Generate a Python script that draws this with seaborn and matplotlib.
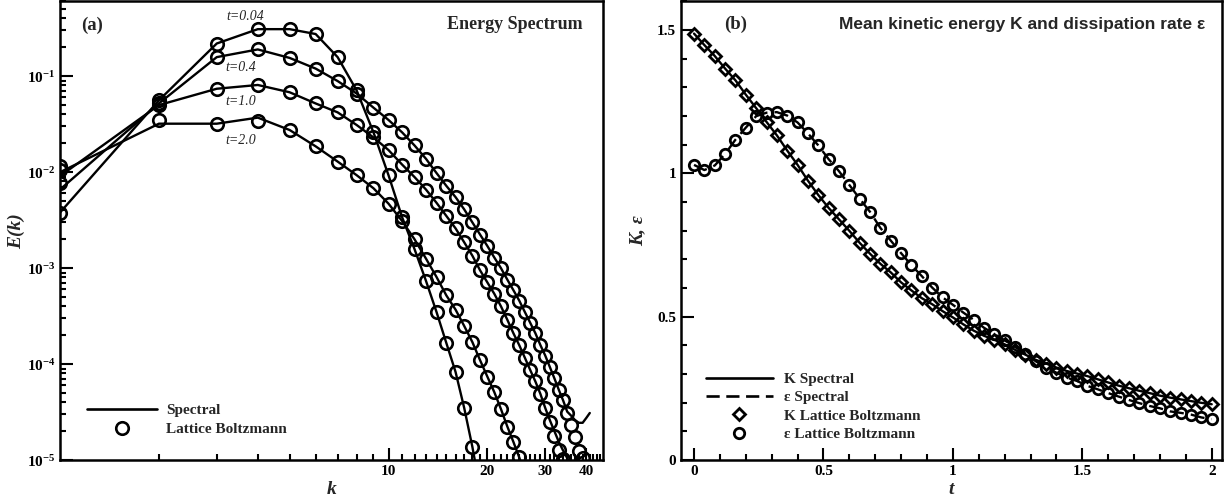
import math
import matplotlib
matplotlib.use("Agg")
import matplotlib.pyplot as plt
import seaborn as sns
import pandas as pd
from matplotlib.lines import Line2D
from matplotlib.ticker import FixedLocator, NullFormatter, MultipleLocator, FuncFormatter, LogLocator

sns.set_style("ticks")
plt.rcParams['font.family'] = ['Liberation Serif', 'DejaVu Serif']
plt.rcParams['font.weight'] = 'bold'
plt.rcParams['axes.labelweight'] = 'bold'
plt.rcParams['mathtext.fontset'] = 'custom'
plt.rcParams['mathtext.rm'] = 'Liberation Serif:bold'
plt.rcParams['mathtext.bf'] = 'Liberation Serif:bold'
plt.rcParams['mathtext.it'] = 'Liberation Serif:italic:bold'

# ---------------- panel (a): energy spectrum E(k) ----------------
k_modes = [1, 2, 3, 4, 5, 6, 7, 8, 9, 10, 11, 12, 13, 14, 15, 16, 17, 18, 19, 20,
           21, 22, 23, 24, 25, 26, 27, 28, 29, 30, 31, 32, 33, 34, 35, 36, 37, 38, 39, 40, 41]
time_labels = ['t=0.04', 't=0.4', 't=1.0', 't=2.0']

# Lattice Boltzmann points
lb_t004 = [3.8e-3, 5.6e-2, 0.219, 0.309, 0.309, 0.275, 0.158, 7.1e-2, 2.6e-2, 9.3e-3,
           3.4e-3, 1.58e-3, 7.4e-4, 3.5e-4, 1.66e-4, 8.3e-5, 3.5e-5, 1.38e-5]
lb_t04 = [7.8e-3, 5.2e-2, 0.158, 0.19, 0.155, 0.12, 8.9e-2, 6.6e-2, 4.7e-2, 3.5e-2,
          2.6e-2, 1.9e-2, 1.38e-2, 9.8e-3, 7.2e-3, 5.5e-3, 4.1e-3, 3.0e-3, 2.24e-3, 1.7e-3,
          1.29e-3, 1.0e-3, 7.6e-4, 5.9e-4, 4.6e-4, 3.5e-4, 2.7e-4, 2.1e-4, 1.58e-4, 1.23e-4,
          9.3e-5, 7.1e-5, 5.4e-5, 4.2e-5, 3.1e-5, 2.3e-5, 1.74e-5, 1.26e-5, 1.05e-5]
lb_t10 = [1.05e-2, 5.0e-2, 7.4e-2, 8.1e-2, 6.8e-2, 5.2e-2, 4.2e-2, 3.1e-2, 2.3e-2, 1.7e-2,
          1.2e-2, 8.9e-3, 6.6e-3, 4.8e-3, 3.5e-3, 2.6e-3, 1.86e-3, 1.35e-3, 9.5e-4, 7.1e-4,
          5.4e-4, 4.0e-4, 2.9e-4, 2.1e-4, 1.58e-4, 1.17e-4, 8.7e-5, 6.6e-5, 4.9e-5, 3.5e-5,
          2.5e-5, 1.78e-5, 1.29e-5, 1.02e-5]
lb_t20 = [1.17e-2, 3.5e-2, 3.2e-2, 3.4e-2, 2.75e-2, 1.86e-2, 1.29e-2, 9.3e-3, 6.8e-3, 4.7e-3,
          3.1e-3, 2.0e-3, 1.26e-3, 8.1e-4, 5.2e-4, 3.7e-4, 2.5e-4, 1.7e-4, 1.1e-4, 7.4e-5,
          5.1e-5, 3.4e-5, 2.24e-5, 1.55e-5, 1.07e-5]

# Spectral (pseudo-spectral DNS) lines
sp_t004 = [3.8e-3, 5.6e-2, 0.219, 0.309, 0.309, 0.275, 0.158, 7.1e-2, 2.6e-2, 9.3e-3,
           3.4e-3, 1.58e-3, 7.4e-4, 3.5e-4, 1.66e-4, 8.3e-5, 3.5e-5, 1.38e-5, 5.0e-6]
sp_t04 = [6.6e-3, 5.2e-2, 0.158, 0.19, 0.155, 0.12, 8.9e-2, 6.6e-2, 4.7e-2, 3.5e-2,
          2.6e-2, 1.9e-2, 1.38e-2, 9.8e-3, 7.2e-3, 5.5e-3, 4.1e-3, 3.0e-3, 2.24e-3, 1.7e-3,
          1.29e-3, 1.0e-3, 7.6e-4, 5.9e-4, 4.6e-4, 3.5e-4, 2.7e-4, 2.1e-4, 1.58e-4, 1.23e-4,
          9.3e-5, 7.1e-5, 5.4e-5, 4.2e-5, 3.2e-5, 2.9e-5, 2.6e-5, 2.45e-5, 2.45e-5, 2.75e-5, 3.1e-5]
sp_t10 = [9.1e-3, 5.0e-2, 7.4e-2, 8.1e-2, 6.8e-2, 5.2e-2, 4.2e-2, 3.1e-2, 2.3e-2, 1.7e-2,
          1.2e-2, 8.9e-3, 6.6e-3, 4.8e-3, 3.5e-3, 2.6e-3, 1.86e-3, 1.35e-3, 9.5e-4, 7.1e-4,
          5.4e-4, 4.0e-4, 2.9e-4, 2.1e-4, 1.58e-4, 1.17e-4, 8.7e-5, 6.6e-5, 4.9e-5, 3.5e-5,
          2.6e-5, 2.0e-5, 1.55e-5, 1.26e-5, 1.05e-5, 8.7e-6]
sp_t20 = [1.0e-2, 3.2e-2, 3.2e-2, 3.7e-2, 2.75e-2, 1.86e-2, 1.29e-2, 9.3e-3, 6.8e-3, 4.7e-3,
          3.1e-3, 2.0e-3, 1.26e-3, 8.1e-4, 5.2e-4, 3.7e-4, 2.5e-4, 1.7e-4, 1.1e-4, 7.4e-5,
          5.1e-5, 3.4e-5, 2.24e-5, 1.55e-5, 1.07e-5, 7.0e-6]

# ---------------- panel (b): K(t) and eps(t) ----------------
t_vals = [0.0, 0.04, 0.08, 0.12, 0.16, 0.2, 0.24, 0.28, 0.32, 0.36, 0.4, 0.44, 0.48, 0.52,
          0.56, 0.6, 0.64, 0.68, 0.72, 0.76, 0.8, 0.84, 0.88, 0.92, 0.96, 1.0, 1.04, 1.08,
          1.12, 1.16, 1.2, 1.24, 1.28, 1.32, 1.36, 1.4, 1.44, 1.48, 1.52, 1.56, 1.6, 1.64,
          1.68, 1.72, 1.76, 1.8, 1.84, 1.88, 1.92, 1.96, 2.0]
K_vals = [1.488, 1.448, 1.41, 1.366, 1.325, 1.275, 1.228, 1.18, 1.133, 1.08, 1.03, 0.975,
          0.925, 0.88, 0.84, 0.80, 0.758, 0.72, 0.685, 0.655, 0.62, 0.592, 0.565, 0.544,
          0.52, 0.498, 0.474, 0.452, 0.434, 0.42, 0.404, 0.385, 0.368, 0.35, 0.337, 0.323,
          0.311, 0.302, 0.293, 0.282, 0.271, 0.26, 0.251, 0.242, 0.234, 0.225, 0.218, 0.212,
          0.206, 0.20, 0.195]
eps_vals = [1.03, 1.012, 1.028, 1.068, 1.118, 1.16, 1.2, 1.212, 1.214, 1.202, 1.178, 1.14,
            1.098, 1.05, 1.008, 0.96, 0.912, 0.866, 0.81, 0.766, 0.722, 0.68, 0.642, 0.602,
            0.568, 0.542, 0.515, 0.49, 0.462, 0.44, 0.418, 0.395, 0.372, 0.345, 0.323, 0.305,
            0.288, 0.276, 0.259, 0.247, 0.234, 0.222, 0.21, 0.199, 0.189, 0.181, 0.17, 0.165,
            0.159, 0.149, 0.143]


def long_frame(series_list):
    rows = []
    for lab, vals in zip(time_labels, series_list):
        for k, e in zip(k_modes, vals):
            rows.append({'t': lab, 'k': k, 'E': e})
    return pd.DataFrame(rows)


spec_df = long_frame([sp_t004, sp_t04, sp_t10, sp_t20])
lb_df = long_frame([lb_t004, lb_t04, lb_t10, lb_t20])
evo_df = pd.DataFrame({'t': t_vals, 'K': K_vals, 'eps': eps_vals})

fig = plt.figure(figsize=(12.25, 4.98), dpi=100)
ax_a = fig.add_axes([0.049, 0.076, 0.4433, 0.921])
ax_b = fig.add_axes([0.556, 0.076, 0.4416, 0.921])

# ---- (a)
ax_a.set_xscale('log')
ax_a.set_yscale('log')
sns.lineplot(data=spec_df, x='k', y='E', units='t', estimator=None, color='black',
             linewidth=1.7, ax=ax_a)
sns.lineplot(data=lb_df, x='k', y='E', units='t', estimator=None, color='black',
             linestyle='none', marker='o', markersize=9, markerfacecolor='none',
             markeredgecolor='black', markeredgewidth=1.9, ax=ax_a)
ax_a.set_xlim(1, 45)
ax_a.set_ylim(1e-5, 0.6)

ax_a.xaxis.set_major_locator(FixedLocator([10, 20, 30, 40]))
ax_a.xaxis.set_major_formatter(FuncFormatter(lambda v, p: '%d' % v))
ax_a.xaxis.set_minor_locator(FixedLocator([2, 3, 4, 5, 6, 7, 8, 9, 11, 12, 13, 14, 15, 16,
                                           17, 18, 19, 21, 22, 23, 24, 25, 26, 27, 28, 29,
                                           31, 32, 33, 34, 35, 36, 37, 38, 39, 41, 42, 43, 44]))
ax_a.xaxis.set_minor_formatter(NullFormatter())
ax_a.yaxis.set_major_locator(FixedLocator([1e-5, 1e-4, 1e-3, 1e-2, 1e-1]))
ax_a.yaxis.set_major_formatter(FuncFormatter(
    lambda v, p: r'$\mathbf{10^{%d}}$' % round(math.log10(v))))
ax_a.yaxis.set_minor_locator(LogLocator(base=10, subs=[2, 3, 4, 5, 6, 7, 8, 9]))
ax_a.yaxis.set_minor_formatter(NullFormatter())

ax_a.set_xlabel('k', style='italic', fontsize=14, labelpad=2)
ax_a.set_ylabel('E(k)', style='italic', fontsize=14, labelpad=1)

for lab, (kx, ey) in zip(time_labels, [(3.66, 0.42), (3.54, 0.124), (3.54, 0.054), (3.54, 0.0216)]):
    ax_a.text(kx, ey, lab, style='italic', fontweight='normal', fontsize=10,
              ha='center', va='center')

ax_a.text(0.059, 0.947, '(a)', transform=ax_a.transAxes, fontsize=13.5, ha='center', va='center')
ax_a.text(0.963, 0.949, 'Energy Spectrum', transform=ax_a.transAxes, fontsize=13,
          ha='right', va='center')

leg_a = [Line2D([], [], color='black', lw=1.9),
         Line2D([], [], ls='none', marker='o', ms=9, mfc='none', mec='black', mew=1.9)]
ax_a.legend(leg_a, ['Spectral', 'Lattice Boltzmann'], loc='lower left',
            bbox_to_anchor=(0.024, 0.022), frameon=False, fontsize=11, handlelength=4.6,
            handletextpad=0.6, labelspacing=0.35)

# ---- (b)
sns.lineplot(data=evo_df, x='t', y='K', color='black', linewidth=1.7, ax=ax_b)
sns.lineplot(data=evo_df, x='t', y='eps', color='black', linewidth=1.7,
             linestyle=(0, (6, 3)), ax=ax_b)
sns.lineplot(data=evo_df, x='t', y='K', color='black', linestyle='none', marker='D',
             markersize=6.5, markerfacecolor='none', markeredgecolor='black',
             markeredgewidth=2.0, ax=ax_b)
sns.lineplot(data=evo_df, x='t', y='eps', color='black', linestyle='none', marker='o',
             markersize=7.5, markerfacecolor='none', markeredgecolor='black',
             markeredgewidth=2.0, ax=ax_b)
ax_b.set_xlim(-0.05, 2.04)
ax_b.set_ylim(0, 1.6)
ax_b.xaxis.set_major_locator(MultipleLocator(0.5))
ax_b.xaxis.set_minor_locator(MultipleLocator(0.1))
ax_b.yaxis.set_major_locator(MultipleLocator(0.5))
ax_b.yaxis.set_minor_locator(MultipleLocator(0.1))
ax_b.xaxis.set_major_formatter(FuncFormatter(lambda v, p: '%g' % v))
ax_b.yaxis.set_major_formatter(FuncFormatter(lambda v, p: '%g' % v))
ax_b.set_xlabel('t', style='italic', fontsize=14, labelpad=2)
ax_b.set_ylabel('K, ε', style='italic', fontsize=14, labelpad=8)

ax_b.text(0.1, 0.95, '(b)', transform=ax_b.transAxes, fontsize=13.5, ha='center', va='center')
ax_b.text(0.969, 0.949, 'Mean kinetic energy K and dissipation rate ε', transform=ax_b.transAxes,
          fontsize=12.5, ha='right', va='center', family=['Liberation Sans', 'DejaVu Sans'])

leg_b = [Line2D([], [], color='black', lw=1.9),
         Line2D([], [], color='black', lw=1.9, ls=(0, (5, 2.5))),
         Line2D([], [], ls='none', marker='D', ms=6.5, mfc='none', mec='black', mew=2.0),
         Line2D([], [], ls='none', marker='o', ms=7.5, mfc='none', mec='black', mew=2.0)]
ax_b.legend(leg_b, ['K Spectral', 'ε Spectral', 'K Lattice Boltzmann', 'ε Lattice Boltzmann'],
            loc='lower left', bbox_to_anchor=(0.02, 0.012), frameon=False, fontsize=11,
            handlelength=4.4, handletextpad=0.7, labelspacing=0.3)

for ax in (ax_a, ax_b):
    for sp in ax.spines.values():
        sp.set_linewidth(1.8)
        sp.set_color('black')
    ax.tick_params(which='both', direction='in', top=False, right=False, width=1.5,
                   labelsize=11, colors='black')
    ax.tick_params(which='major', length=9)
    ax.tick_params(which='minor', length=4.5)

fig.savefig('out.png', dpi=100)
